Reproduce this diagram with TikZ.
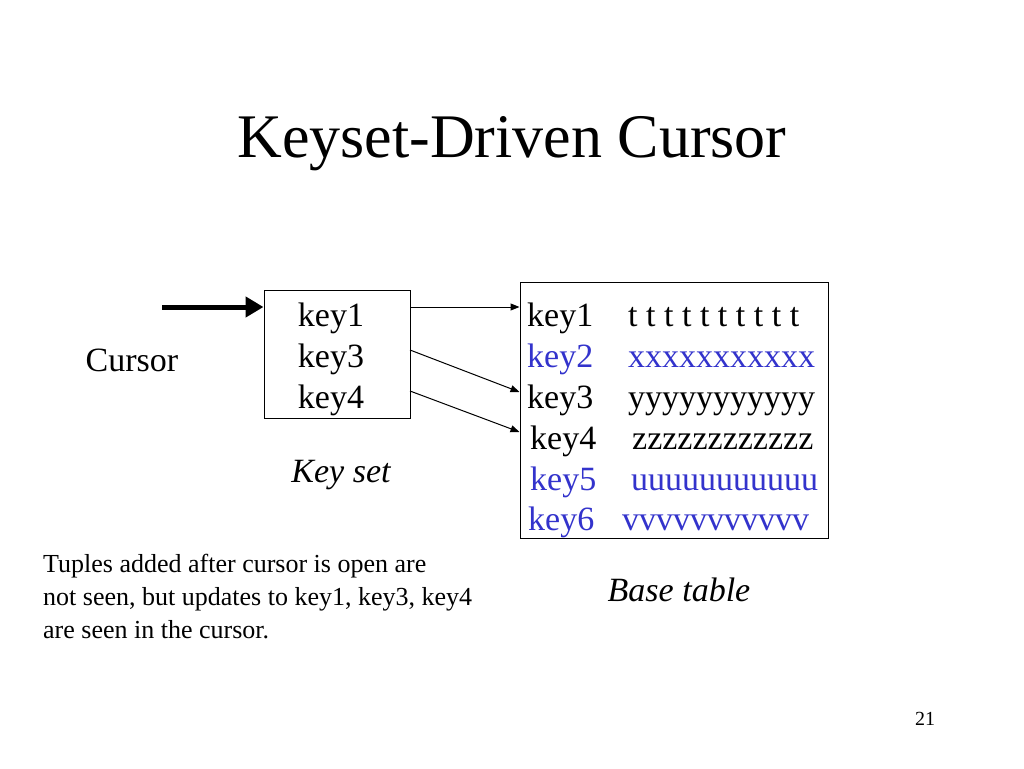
\documentclass[tikz,border=0pt]{standalone}
\usepackage{fontspec}
\setmainfont{Liberation Serif}
\usetikzlibrary{arrows.meta}
\definecolor{keyblue}{RGB}{51,51,204}
\begin{document}
\begin{tikzpicture}[x=1pt,y=-1pt,
  body/.style={font=\fontsize{34}{41}\selectfont, inner sep=0pt},
  small/.style={font=\fontsize{26}{33}\selectfont, inner sep=0pt},
  lbl/.style={font=\fontsize{34}{41}\selectfont\itshape, inner sep=0pt},
  box/.style={draw, line width=1pt},
  thin/.style={line width=1pt, -{Triangle[length=9pt,width=7pt]}}]
\path[use as bounding box, fill=white] (0,0) rectangle (1024,768);
\node[font=\fontsize{62}{70}\selectfont, inner sep=0pt, anchor=base] (title) at (512,157) {Keyset-Driven Cursor};
% key set box
\node[box, minimum width=146pt, minimum height=128pt, inner sep=0pt] (ks) at (337,354) {};
\node[body, anchor=base] (k1) at (331,326) {key1};
\node[body, anchor=base] (k3) at (331,367) {key3};
\node[body, anchor=base] (k4) at (331,408) {key4};
\node[body, anchor=base] (cursor) at (132,371) {Cursor};
\node[lbl, anchor=base] (kslabel) at (341,482) {Key set};
\coordinate (cstart) at (162,307);
\draw[line width=5pt, -{Triangle[length=18pt,width=20pt]}] (cstart) -- (ks.west |- cstart);
% base table
\node[box, minimum width=308pt, minimum height=256pt, inner sep=0pt] (bt) at (674,410) {};
\node[body, anchor=base west] (b1) at (527,326) {key1};
\node[body, anchor=base west, text=keyblue] (b2) at (527,367) {key2};
\node[body, anchor=base west] (b3) at (527,408) {key3};
\node[body, anchor=base west] (b4) at (530,449) {key4};
\node[body, anchor=base west, text=keyblue] (b5) at (530,490) {key5};
\node[body, anchor=base west, text=keyblue] (b6) at (528,530) {key6};
\node[body, anchor=base west] (v1) at (628,326) {t t t t t t t t t t};
\node[body, anchor=base west, text=keyblue] (v2) at (628,367) {xxxxxxxxxxx};
\node[body, anchor=base west] (v3) at (628,408) {yyyyyyyyyyy};
\node[body, anchor=base west] (v4) at (632,449) {zzzzzzzzzzzz};
\node[body, anchor=base west, text=keyblue] (v5) at (631,490) {uuuuuuuuuuu};
\node[body, anchor=base west, text=keyblue] (v6) at (622,530) {vvvvvvvvvvv};
\node[lbl, anchor=base] (btlabel) at (679,601) {Base table};
% pointer arrows
\coordinate (a1s) at (410,307);
\coordinate (a3s) at (410,350);
\coordinate (a4s) at (410,391);
\draw[thin] (a1s) -- (bt.west |- a1s);
\draw[thin] (a3s) -- (bt.west |- 0,392);
\draw[thin] (a4s) -- (bt.west |- 0,432);
% note
\node[small, anchor=base west, align=left] (note) at (43,638) {Tuples added after cursor is open are\\not seen, but updates to key1, key3, key4\\are seen in the cursor.};
\node[font=\fontsize{20}{24}\selectfont, inner sep=0pt, anchor=base] (pg) at (925,725) {21};
\end{tikzpicture}
\end{document}
